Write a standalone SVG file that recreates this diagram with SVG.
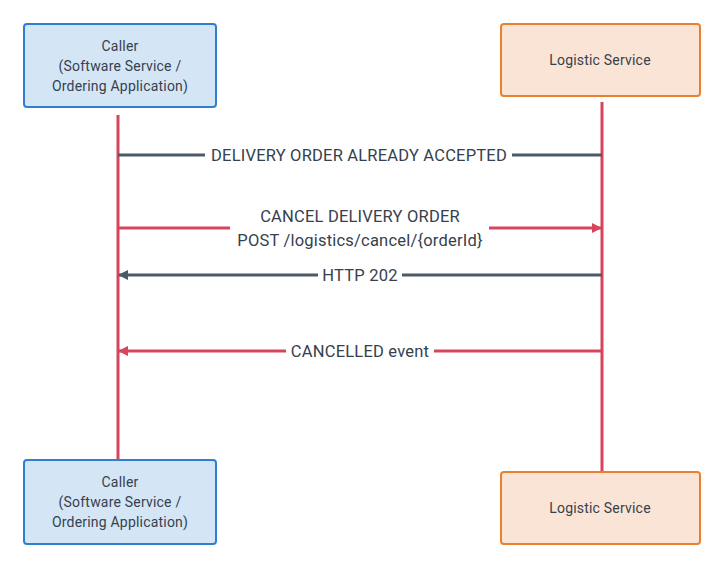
<svg xmlns="http://www.w3.org/2000/svg" width="724" height="568" viewBox="0 0 724 568">
<style>
  .caller rect { fill:#d4e6f6; stroke:#2f7fd0; stroke-width:2; }
  .logi rect { fill:#fae4d6; stroke:#e8802e; stroke-width:2; }
  .nt { font-family:Roboto, "Liberation Sans", sans-serif; font-size:14px; letter-spacing:0.2px; fill:#36414d; text-anchor:middle; }
  .lbl { font-family:Roboto, "Liberation Sans", sans-serif; font-size:16.5px; letter-spacing:0.2px; fill:#36414d; text-anchor:middle; }
  .life { stroke:#d6455c; stroke-width:3; fill:none; }
  .red { stroke:#d6455c; stroke-width:3; fill:none; }
  .gray { stroke:#4b5a69; stroke-width:3; fill:none; }
  .bg { fill:#ffffff; }
</style>
<defs>
  <marker id="ahRed" markerWidth="10" markerHeight="10" refX="9" refY="5" orient="auto" markerUnits="userSpaceOnUse">
    <path d="M0,0 L10,5 L0,10 z" fill="#d6455c"/>
  </marker>
  <marker id="ahGray" markerWidth="10" markerHeight="10" refX="9" refY="5" orient="auto" markerUnits="userSpaceOnUse">
    <path d="M0,0 L10,5 L0,10 z" fill="#4b5a69"/>
  </marker>
</defs>
<g id="lifelines">
  <line class="life" x1="118" y1="115" x2="118" y2="460"/>
  <line class="life" x1="602" y1="102" x2="602" y2="472"/>
</g>
<g id="connectors">
  <g id="msg1">
    <line class="gray" x1="118" y1="155" x2="602" y2="155"/>
    <rect class="bg" x="205" y="145" width="307" height="20"/>
    <text class="lbl" x="359" y="161">DELIVERY ORDER ALREADY ACCEPTED</text>
  </g>
  <g id="msg2">
    <line class="red" x1="118" y1="228" x2="601" y2="228" marker-end="url(#ahRed)"/>
    <rect class="bg" x="230" y="205" width="259" height="45"/>
    <text class="lbl" x="360" y="221.5">CANCEL DELIVERY ORDER</text>
    <text class="lbl" x="360" y="245.5">POST /logistics/cancel/{orderId}</text>
  </g>
  <g id="msg3">
    <line class="gray" x1="602" y1="275" x2="119" y2="275" marker-end="url(#ahGray)"/>
    <rect class="bg" x="318" y="265" width="84" height="20"/>
    <text class="lbl" x="360" y="281">HTTP 202</text>
  </g>
  <g id="msg4">
    <line class="red" x1="602" y1="351" x2="119" y2="351" marker-end="url(#ahRed)"/>
    <rect class="bg" x="286" y="341" width="148" height="20"/>
    <text class="lbl" x="360" y="357">CANCELLED event</text>
  </g>
</g>
<g id="caller-top" class="caller">
  <rect x="24" y="24" width="192" height="83" rx="3"/>
  <text class="nt" x="120" y="50.5">Caller</text>
  <text class="nt" x="120" y="70.5">(Software Service /</text>
  <text class="nt" x="120" y="90.5">Ordering Application)</text>
</g>
<g id="logistic-top" class="logi">
  <rect x="501" y="24" width="199" height="72" rx="3"/>
  <text class="nt" x="600" y="65">Logistic Service</text>
</g>
<g id="caller-bottom" class="caller">
  <rect x="24" y="460" width="192" height="84" rx="3"/>
  <text class="nt" x="120" y="486.5">Caller</text>
  <text class="nt" x="120" y="506.5">(Software Service /</text>
  <text class="nt" x="120" y="526.5">Ordering Application)</text>
</g>
<g id="logistic-bottom" class="logi">
  <rect x="501" y="472" width="199" height="72" rx="3"/>
  <text class="nt" x="600" y="513">Logistic Service</text>
</g>
</svg>
